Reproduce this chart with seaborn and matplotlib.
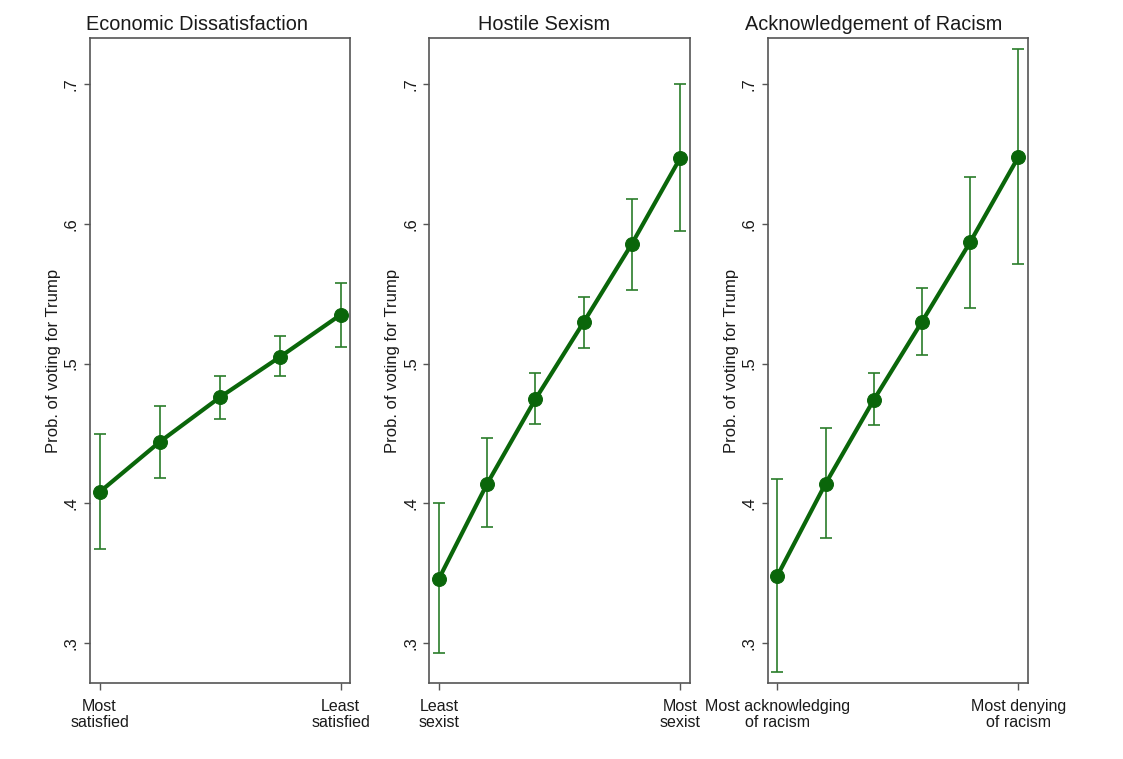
import matplotlib
matplotlib.use("Agg")
import matplotlib.pyplot as plt
import seaborn as sns
import pandas as pd

# predicted probabilities and 95% CIs
econ_mean = [0.408, 0.444, 0.476, 0.505, 0.535]
econ_lo = [0.367, 0.418, 0.4605, 0.491, 0.512]
econ_hi = [0.4495, 0.4696, 0.491, 0.520, 0.558]
econ_ticks = ["Most\nsatisfied", "Least\nsatisfied"]

sexism_mean = [0.346, 0.414, 0.4745, 0.5296, 0.5857, 0.647]
sexism_lo = [0.293, 0.383, 0.4565, 0.511, 0.553, 0.595]
sexism_hi = [0.400, 0.447, 0.493, 0.548, 0.618, 0.700]
sexism_ticks = ["Least\nsexist", "Most\nsexist"]

racism_mean = [0.348, 0.414, 0.474, 0.530, 0.587, 0.648]
racism_lo = [0.279, 0.375, 0.4557, 0.506, 0.540, 0.571]
racism_hi = [0.4176, 0.454, 0.493, 0.554, 0.634, 0.725]
racism_ticks = ["Most acknowledging\nof racism", "Most denying\nof racism"]

titles = ["Economic Dissatisfaction", "Hostile Sexism", "Acknowledgement of Racism"]
y_ticks = [0.3, 0.4, 0.5, 0.6, 0.7]
y_ticklabels = [".3", ".4", ".5", ".6", ".7"]

LINE_COLOR = "#0a660a"
CI_COLOR = "#2a7d2a"
TEXT_COLOR = "#1a1a1a"

sns.set_theme(style="white")
plt.rcParams['font.family'] = ['Liberation Sans', 'DejaVu Sans']

fig = plt.figure(figsize=(11.23, 7.59), dpi=100)
axes_pos = [0.0801, 0.3823, 0.6836]
title_x = [0.412, 0.439, 0.4075]

panels = [
    (econ_mean, econ_lo, econ_hi, econ_ticks),
    (sexism_mean, sexism_lo, sexism_hi, sexism_ticks),
    (racism_mean, racism_lo, racism_hi, racism_ticks),
]

for i, (mean, lo, hi, ticks) in enumerate(panels):
    ax = fig.add_axes([axes_pos[i], 0.0997, 0.2318, 0.8498])
    df = pd.DataFrame({"x": range(len(mean)), "y": mean, "lo": lo, "hi": hi})

    ax.errorbar(df["x"], df["y"], yerr=[df["y"] - df["lo"], df["hi"] - df["y"]],
                fmt="none", ecolor=CI_COLOR, elinewidth=1.2, capsize=4, capthick=1.2, zorder=2)
    sns.lineplot(data=df, x="x", y="y", ax=ax, color=LINE_COLOR, linewidth=3,
                 marker="o", markersize=10, markeredgecolor=LINE_COLOR, zorder=3)

    n = len(mean) - 1
    ax.set_xlim(-0.04 * n, n * 1.04)
    ax.set_ylim(0.271, 0.733)
    ax.set_xticks([0, n])
    ax.set_xticklabels(ticks, fontsize=11.5, linespacing=1.08, color=TEXT_COLOR)
    ax.set_yticks(y_ticks)
    ax.set_yticklabels(y_ticklabels, fontsize=12, color=TEXT_COLOR)
    ax.tick_params(axis="y", labelrotation=90, length=4, width=1, color="#555555", pad=4, left=True)
    ax.tick_params(axis="x", length=5, width=1, color="#555555", pad=6, bottom=True)
    for lab in ax.get_yticklabels():
        lab.set_va("center")

    ax.set_xlabel("")
    ax.set_ylabel("Prob. of voting for Trump", fontsize=12, labelpad=2, color=TEXT_COLOR)
    for sp in ax.spines.values():
        sp.set_color("#555555")
        sp.set_linewidth(1.2)
    ax.text(title_x[i], 1.006, titles[i], transform=ax.transAxes, ha="center",
            va="bottom", fontsize=14.3, color=TEXT_COLOR)

fig.savefig("out.png", dpi=100, facecolor="white")
